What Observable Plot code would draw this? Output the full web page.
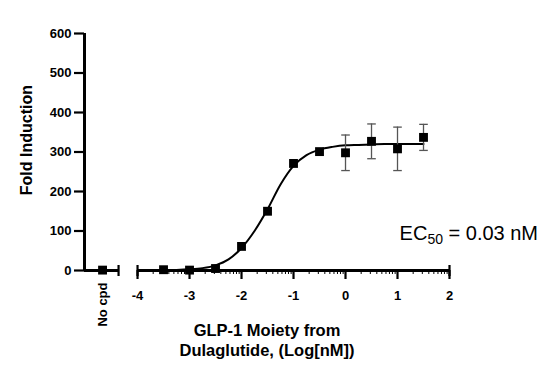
<!DOCTYPE html>
<html>
<head>
<meta charset="utf-8">
<script src="https://cdn.jsdelivr.net/npm/d3@7"></script>
<script src="https://cdn.jsdelivr.net/npm/@observablehq/plot@0.6"></script>
<style>
  html, body { margin: 0; padding: 0; background: #fff; }
</style>
</head>
<body>
<div id="chart"></div>
<script>
// ---- data ----
const logConc = [-3.5, -3, -2.5, -2, -1.5, -1, -0.5, 0, 0.5, 1, 1.5];
const foldInduction = [2, 1, 5, 61, 150, 271, 301, 298, 327, 308, 337];
const errorSD = [0, 0, 0, 0, 0, 0, 0, 45, 44, 55, 33];
const noCpdValue = 1;
const noCpdLabel = "No cpd";
const curveLogConc = [-3.5, -3.25, -3, -2.75, -2.5, -2.25, -2, -1.75, -1.5, -1.25, -1, -0.75, -0.5, -0.25, 0, 0.25, 0.5, 0.75, 1, 1.25, 1.5];
const curveFold = [1, 1.5, 3, 6, 13, 28, 57, 100, 155, 218, 265, 292, 306, 313, 317, 318, 319, 320, 320, 320, 320];
const yTicks = [0, 100, 200, 300, 400, 500, 600];
const xTicks = [-4, -3, -2, -1, 0, 1, 2];
const yTitle = "Fold Induction";
const xTitle = "GLP-1 Moiety from\nDulaglutide, (Log[nM])";
const ec50Label = { main: "EC", sub: "50", rest: " = 0.03 nM" };

// ---- layout helpers (axis break positions, in x units) ----
const xMin = -5.02, noCpdX = -4.673, breakEnd = -4.365;
const minorTicks = [];
for (let d = -4; d < 2; d++) for (let k = 2; k <= 9; k++) minorTicks.push(d + Math.log10(k));

const points = logConc.map((x, i) => ({x, y: foldInduction[i], e: errorSD[i]}));
const errPts = points.filter(d => d.e > 0);
const curve = curveLogConc.map((x, i) => ({x, y: curveFold[i]}));

const vLine = {draw(ctx, size) { const r = Math.sqrt(size / Math.PI); ctx.moveTo(0, -r); ctx.lineTo(0, r); }};
const hLine = {draw(ctx, size) { const r = Math.sqrt(size / Math.PI); ctx.moveTo(-r, 0); ctx.lineTo(r, 0); }};

const font = "'Liberation Sans', Arial, Helvetica, sans-serif";

const plot = Plot.plot({
  width: 545,
  height: 373,
  marginLeft: 84,
  marginRight: 96,
  marginTop: 33,
  marginBottom: 103,
  style: {fontFamily: font, fontSize: "13px", color: "#000", background: "#fff", overflow: "visible"},
  x: {type: "linear", domain: [xMin, 2]},
  y: {type: "linear", domain: [0, 600]},
  marks: [
    // y axis
    Plot.ruleX([xMin], {y1: 0, y2: 600, stroke: "#000", strokeWidth: 3}),
    Plot.axisY({ticks: yTicks, tickSize: 10, strokeWidth: 2.2, label: null, tickFormat: () => ""}),
    Plot.text(yTicks, {x: xMin, y: d => d, text: d => String(d), textAnchor: "end", dx: -13, fontSize: 13, fontWeight: "bold", fill: "#000"}),
    // broken x axis
    Plot.ruleY([0], {x1: xMin, x2: breakEnd, stroke: "#000", strokeWidth: 3}),
    Plot.ruleY([0], {x1: -4, x2: 2, stroke: "#000", strokeWidth: 3}),
    Plot.dot([breakEnd, -4, 2], {x: d => d, y: 0, symbol: vLine, r: 5.5, stroke: "#000", strokeWidth: 2.2, fill: "none"}),
    Plot.axisX({ticks: minorTicks, tickSize: 4, strokeWidth: 1, tickFormat: () => "", label: null}),
    Plot.axisX({ticks: xTicks, tickSize: 9, strokeWidth: 2.2, label: null, tickFormat: () => ""}),
    Plot.text(xTicks, {x: d => d, y: 0, text: d => String(d), lineAnchor: "top", dy: 20, fontSize: 13, fontWeight: "bold", fill: "#000"}),
    Plot.text([noCpdLabel], {x: noCpdX, y: 0, rotate: -90, textAnchor: "end", dy: 12, fontSize: 13, fontWeight: "bold", fill: "#000"}),
    // titles
    Plot.text([yTitle], {x: -6.12, y: 330, rotate: -90, fontSize: 16, fontWeight: "bold", fill: "#000"}),
    Plot.text([xTitle], {frameAnchor: "bottom", lineAnchor: "top", dy: 51, fontSize: 16.5, fontWeight: "bold", lineHeight: 1.22, fill: "#000"}),
    // fit curve
    Plot.line(curve, {x: "x", y: "y", curve: "monotone-x", stroke: "#000", strokeWidth: 2}),
    // error bars
    Plot.ruleX(errPts, {x: "x", y1: d => d.y - d.e, y2: d => d.y + d.e, stroke: "#555", strokeWidth: 1.3}),
    Plot.dot(errPts, {x: "x", y: d => d.y + d.e, symbol: hLine, r: 4.3, stroke: "#555", strokeWidth: 1.3, fill: "none"}),
    Plot.dot(errPts, {x: "x", y: d => d.y - d.e, symbol: hLine, r: 4.3, stroke: "#555", strokeWidth: 1.3, fill: "none"}),
    // data points
    Plot.dot(points, {x: "x", y: "y", symbol: "square", r: 5, fill: "#000", stroke: "none"}),
    Plot.dot([noCpdValue], {x: noCpdX, y: d => d, symbol: "square", r: 5, fill: "#000", stroke: "none"})
  ]
});

document.getElementById("chart").appendChild(plot);

// EC50 annotation with subscript
const sx = plot.scale("x"), sy = plot.scale("y");
const t = d3.select(plot).append("text")
  .attr("x", sx.apply(1.05))
  .attr("y", sy.apply(76))
  .attr("text-anchor", "start")
  .attr("font-family", font)
  .attr("font-size", 20)
  .attr("font-weight", "normal")
  .attr("fill", "#000");
t.append("tspan").text(ec50Label.main);
t.append("tspan").attr("font-size", 14).attr("dy", 4).text(ec50Label.sub);
t.append("tspan").attr("dy", -4).text(ec50Label.rest);
</script>
</body>
</html>
